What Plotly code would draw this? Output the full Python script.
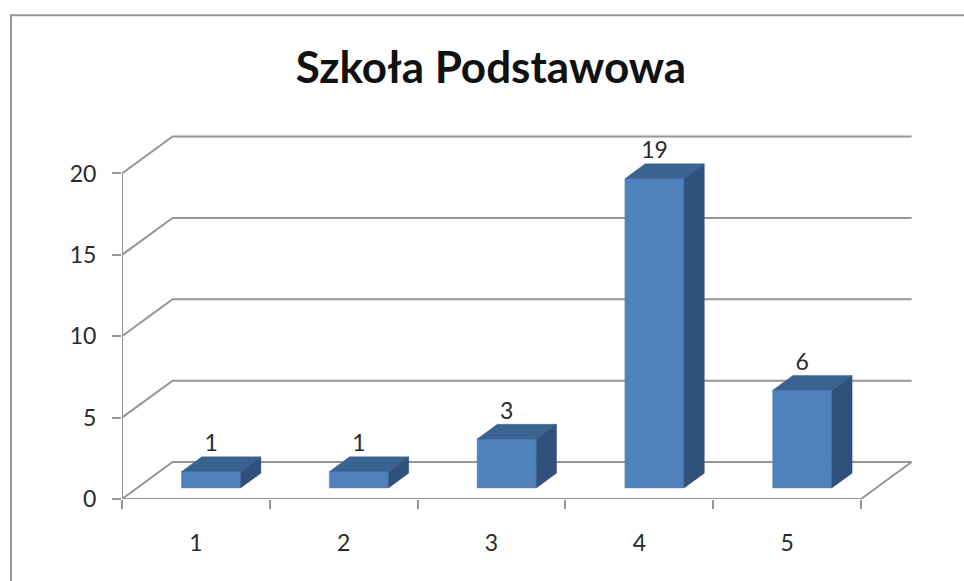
import plotly.graph_objects as go

title = "Szkoła Podstawowa"
categories = ["1", "2", "3", "4", "5"]
values = [1, 1, 3, 19, 6]
y_ticks = [0, 5, 10, 15, 20]

GRID = "#969696"
FRONT = "#4f81bd"
TOP = "#3b6392"
SIDE = "#30517b"
TEXT = "#2a2a2a"
FONT = "Lato"

# page layout of the plot area, pixels
L, R, T, B = 122, 914, 135, 499.5
PX_X = 147.8          # pixels per category
PX_Y = 16.3           # pixels per unit
DX = 50.6 / PX_X      # depth vector in data units
DY = 37 / PX_Y
BAR_W = 0.4
D0, D1 = 0.3, 0.7     # depth span of the bars

fig = go.Figure()


def poly(xs, ys, color):
    fig.add_trace(go.Scatter(x=xs, y=ys, mode="lines", fill="toself", fillcolor=color,
                             line=dict(color=color, width=0.5), hoverinfo="skip", showlegend=False))


def line(xs, ys):
    fig.add_trace(go.Scatter(x=xs, y=ys, mode="lines", line=dict(color=GRID, width=2),
                             hoverinfo="skip", showlegend=False))


n = len(categories)
# walls: gridlines run along the side wall then the back wall
for t in y_ticks:
    line([0, DX, n + DX], [t, t + DY, t + DY])
# floor edges and front axis lines
line([n + DX, n, 0], [DY, 0, 0])
line([0, 0], [0, y_ticks[-1]])

# bars
for i, v in enumerate(values):
    x0 = i + 0.5 - BAR_W / 2 + D0 * DX
    x1 = x0 + BAR_W
    yb = D0 * DY
    dx = (D1 - D0) * DX
    dy = (D1 - D0) * DY
    poly([x0, x1, x1, x0, x0], [yb, yb, yb + v, yb + v, yb], FRONT)
    poly([x0, x1, x1 + dx, x0 + dx, x0], [yb + v, yb + v, yb + v + dy, yb + v + dy, yb + v], TOP)
    poly([x1, x1 + dx, x1 + dx, x1, x1], [yb, yb + dy, yb + v + dy, yb + v, yb], SIDE)

# value labels
fig.add_trace(go.Scatter(
    x=[i + 0.5 + D0 * DX for i in range(n)],
    y=[v + D1 * DY for v in values],
    mode="text", text=[str(v) for v in values], textposition="top center",
    textfont=dict(family=FONT, size=23, color=TEXT),
    hoverinfo="skip", showlegend=False, cliponaxis=False))

W, H = 964, 581
pw, ph = R - L, B - T
fig.update_layout(
    width=W, height=H,
    margin=dict(l=L, r=W - R, t=T, b=H - B, pad=0),
    paper_bgcolor="white", plot_bgcolor="white",
    showlegend=False,
    title=dict(text=f"<b>{title}</b>", x=491 / W, y=1 - 68 / H, xref="container",
               yref="container", xanchor="center", yanchor="middle",
               font=dict(family=FONT, size=44, color="#111111")),
    xaxis=dict(range=[0, pw / PX_X], showgrid=False, zeroline=False, showline=False,
               tickmode="array", tickvals=[i + 0.5 for i in range(n)], ticktext=categories,
               ticks="", ticklabelstandoff=28,
               tickfont=dict(family=FONT, size=23, color=TEXT),
               minor=dict(tickmode="array", tickvals=list(range(n + 1)), ticks="outside",
                          ticklen=9, tickwidth=2, tickcolor=GRID, showgrid=False)),
    yaxis=dict(range=[0, ph / PX_Y], showgrid=False, zeroline=False, showline=False,
               tickmode="array", tickvals=y_ticks, ticks="outside", ticklen=9, tickwidth=2,
               tickcolor=GRID, ticklabelstandoff=11,
               tickfont=dict(family=FONT, size=23, color=TEXT)),
    shapes=[dict(type="rect", xref="paper", yref="paper",
                 x0=(11 - L) / pw, x1=1.2, y0=-0.5, y1=(B - 15) / ph,
                 line=dict(color=GRID, width=2), fillcolor="rgba(0,0,0,0)", layer="below")],
)
fig.write_html("out.html", config=dict(displayModeBar=False),
               post_script="document.body.style.margin='0';document.body.style.overflow='hidden';")
